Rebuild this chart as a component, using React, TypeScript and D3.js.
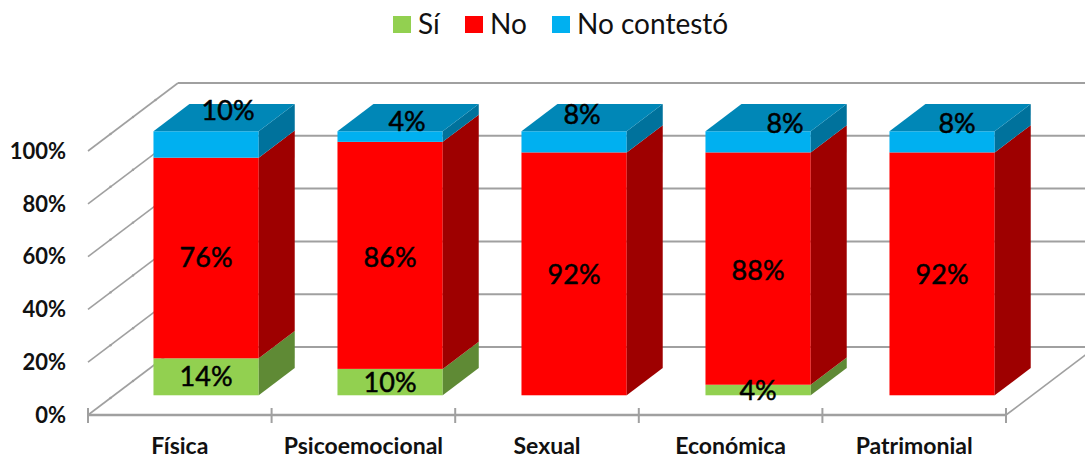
import * as d3 from 'd3'

const categories = ['Física', 'Psicoemocional', 'Sexual', 'Económica', 'Patrimonial']
const si = [14, 10, 0, 4, 0]
const no = [76, 86, 92, 88, 92]
const noContesto = [10, 4, 8, 8, 8]
const yTicks = [0, 20, 40, 60, 80, 100]
const seriesKeys = ['si', 'no', 'nc']
const seriesNames = ['Sí', 'No', 'No contestó']

const W = 1085
const H = 458
const font = "Lato, 'Open Sans', sans-serif"

const front = { si: '#92d050', no: '#ff0000', nc: '#00b0f0' }
const side = { si: '#5f8a35', no: '#9e0000', nc: '#00729c' }
const topColor = '#0087b7'
const gridColor = '#a0a0a0'

// hand-moved data labels, px from the middle of the segment's front face
const nudges = {
  si: [[0, 0], [0, 0], [0, 0], [0, 1], [0, 0]],
  no: [[0, 0], [0, 2], [0, 1], [0, 2], [0, 1]],
  nc: [[22, -34], [17, -15], [8, -27], [27, -18], [15, -18]],
}

const rows = categories.map((c, i) => ({ cat: c, si: si[i], no: no[i], nc: noContesto[i] }))
const stacked = d3.stack().keys(seriesKeys)(rows)

// bars sit in their own plane, a touch wider than the axis below them
const x = d3.scaleBand().domain(categories).range([88, 1008]).paddingInner(0.428).paddingOuter(0.214)
const xAxis = d3.scaleBand().domain(categories).range([88, 1006])
const y = d3.scaleLinear().domain([0, 100]).range([415, 151])
// depth runs from the front of the floor (0) to the back wall (1)
const depthX = d3.scaleLinear().domain([0, 1]).range([0, 90])
const depthY = d3.scaleLinear().domain([0, 1]).range([0, -68])
const barFront = 0.29
const barBack = 0.69
const line = d3.line()

function project(px, value, d) {
  return [px + depthX(d), y(value) + depthY(d)]
}

export default function App() {
  const x0 = xAxis.range()[0]
  const x1 = xAxis.range()[1]
  const step = xAxis.step()
  const tickXs = d3.range(categories.length + 1).map((i) => x0 + i * step)

  return (
    <svg width={W} height={H} viewBox={`0 0 ${W} ${H}`} style={{ position: 'absolute', left: 0, top: 0, background: '#fff' }}>
      {/* walls */}
      <g stroke={gridColor} fill="none">
        {yTicks.map((t) => (
          <g key={t}>
            <path d={line([project(x0, t, 0), project(x0, t, 1)])} strokeWidth={1.6} />
            {[0.25, 0.5, 0.75].map((d) => (
              <circle key={d} cx={project(x0, t, d)[0]} cy={project(x0, t, d)[1]} r={1.2} fill={gridColor} stroke="none" />
            ))}
            <path d={line([project(x0, t, 1), project(x1 + 90, t, 1)])} strokeWidth={2} />
          </g>
        ))}
        <path d={line([project(x1, 0, 0), project(x1, 0, 1)])} strokeWidth={1.6} />
        <path d={line([project(x0, 0, 0), project(x1, 0, 0)])} strokeWidth={2.4} />
        {tickXs.map((tx) => (
          <path key={tx} d={line([[tx, y(0) - 7], [tx, y(0) + 8]])} strokeWidth={2} />
        ))}
      </g>

      {/* bars */}
      {categories.map((c, i) => {
        const left = x(c)
        const right = left + x.bandwidth()
        const last = stacked[stacked.length - 1][i][1]
        return (
          <g key={c}>
            {stacked.map((s) => {
              const [v0, v1] = s[i]
              if (v1 <= v0) return null
              const a = project(left, v0, barFront)
              const b = project(right, v1, barFront)
              const sidePts = [
                project(right, v0, barFront),
                project(right, v0, barBack),
                project(right, v1, barBack),
                project(right, v1, barFront),
              ]
              return (
                <g key={s.key}>
                  <rect x={a[0]} y={b[1]} width={b[0] - a[0]} height={a[1] - b[1]} fill={front[s.key]} />
                  <path d={line(sidePts) + 'Z'} fill={side[s.key]} />
                </g>
              )
            })}
            <path
              d={
                line([
                  project(left, last, barFront),
                  project(right, last, barFront),
                  project(right, last, barBack),
                  project(left, last, barBack),
                ]) + 'Z'
              }
              fill={topColor}
            />
          </g>
        )
      })}

      {/* data labels */}
      <g fontFamily={font} fontSize={27} fill="#000" stroke="#000" strokeWidth={0.5} textAnchor="middle">
        {categories.map((c, i) =>
          stacked.map((s) => {
            const [v0, v1] = s[i]
            if (v1 <= v0) return null
            const p = project(x(c) + x.bandwidth() / 2, (v0 + v1) / 2, barFront)
            const [dx, dy] = nudges[s.key][i]
            return (
              <text key={s.key} x={p[0] + dx} y={p[1] + dy} dy="0.35em">
                {v1 - v0}%
              </text>
            )
          })
        )}
      </g>

      {/* y axis */}
      <g fontFamily={font} fontSize={22} fontWeight={700} fill="#111" textAnchor="end">
        {yTicks.map((t) => (
          <text key={t} x={66} y={y(t)} dy="0.35em">
            {t}%
          </text>
        ))}
      </g>

      {/* x axis */}
      <g fontFamily={font} fontSize={23} fontWeight={700} fill="#111" textAnchor="middle">
        {categories.map((c, i) => (
          <text key={c} x={x0 + (i + 0.5) * step} y={454}>
            {c}
          </text>
        ))}
      </g>

      {/* legend */}
      <g fontFamily={font} fontSize={28} fill="#111">
        {seriesKeys.map((k, i) => {
          const lx = [393, 465, 552][i]
          return (
            <g key={k}>
              <rect x={lx} y={16} width={18} height={17} fill={front[k]} />
              <text x={lx + 25} y={34}>
                {seriesNames[i]}
              </text>
            </g>
          )
        })}
      </g>
    </svg>
  )
}
